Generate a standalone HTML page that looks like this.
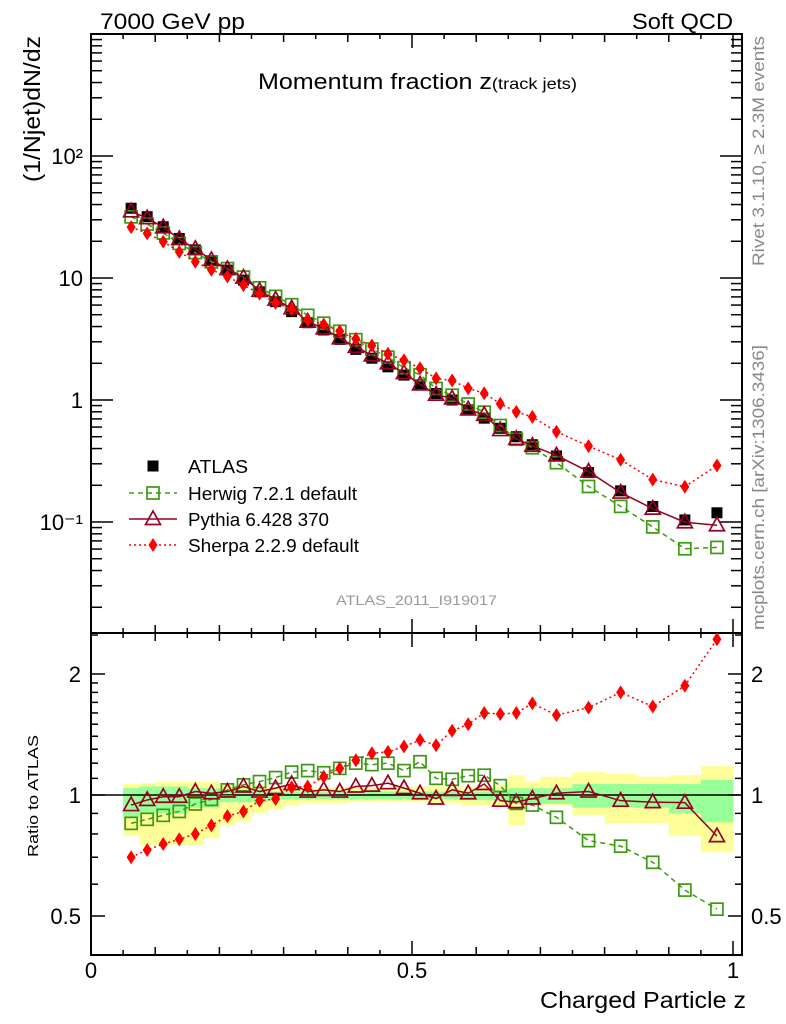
<!DOCTYPE html>
<html><head><meta charset="utf-8"><style>
html,body{margin:0;padding:0;background:#fff;}
svg{display:block;font-family:"Liberation Sans",sans-serif;}
</style></head><body>
<svg id="chart" width="786" height="1024" viewBox="0 0 786 1024" xmlns="http://www.w3.org/2000/svg">
<text x="100" y="29" font-size="22" textLength="145" lengthAdjust="spacingAndGlyphs">7000 GeV pp</text>
<text x="632" y="29" font-size="22" textLength="101" lengthAdjust="spacingAndGlyphs">Soft QCD</text>
<text x="258" y="89" font-size="22" textLength="319" lengthAdjust="spacingAndGlyphs">Momentum fraction z<tspan font-size="16">(track jets)</tspan></text>
<text transform="translate(40,182) rotate(-90)" font-size="23" textLength="146" lengthAdjust="spacingAndGlyphs">(1/Njet)dN/dz</text>
<text transform="translate(38,857) rotate(-90)" font-size="15" textLength="122" lengthAdjust="spacingAndGlyphs">Ratio to ATLAS</text>
<text transform="translate(764,266) rotate(-90)" font-size="17" fill="#888" textLength="230" lengthAdjust="spacingAndGlyphs">Rivet 3.1.10, ≥ 2.3M events</text>
<text transform="translate(764,630) rotate(-90)" font-size="17" fill="#888" textLength="285" lengthAdjust="spacingAndGlyphs">mcplots.cern.ch [arXiv:1306.3436]</text>
<text x="336" y="605" font-size="14" fill="#999" textLength="161" lengthAdjust="spacingAndGlyphs">ATLAS_2011_I919017</text>
<text x="540" y="1008" font-size="23" textLength="206" lengthAdjust="spacingAndGlyphs">Charged Particle z</text>
<g id="layer"></g>
</svg>
<script>
const xCenters=[0.0625,0.0875,0.1125,0.1375,0.1625,0.1875,0.2125,0.2375,0.2625,0.2875,0.3125,0.3375,0.3625,0.3875,0.4125,0.4375,0.4625,0.4875,0.5125,0.5375,0.5625,0.5875,0.6125,0.6375,0.6625,0.6875,0.725,0.775,0.825,0.875,0.925,0.975];
const xHalfWidths=[0.0125,0.0125,0.0125,0.0125,0.0125,0.0125,0.0125,0.0125,0.0125,0.0125,0.0125,0.0125,0.0125,0.0125,0.0125,0.0125,0.0125,0.0125,0.0125,0.0125,0.0125,0.0125,0.0125,0.0125,0.0125,0.0125,0.025,0.025,0.025,0.025,0.025,0.025];
const atlasValues=[37.3,31.8,26.3,21.1,17.0,13.9,11.6,9.6,7.7,6.4,5.3,4.3,3.75,3.14,2.6,2.2,1.87,1.6,1.33,1.13,1.0,0.83,0.71,0.586,0.50,0.43,0.348,0.254,0.18,0.134,0.104,0.119];
const herwigRatio=[0.85,0.87,0.89,0.91,0.95,0.975,1.03,1.06,1.08,1.105,1.14,1.15,1.136,1.165,1.2,1.19,1.2,1.15,1.21,1.10,1.094,1.117,1.12,1.055,0.953,0.944,0.88,0.77,0.746,0.68,0.58,0.52];
const pythiaRatio=[0.944,0.972,0.99,0.99,1.02,1.01,1.02,1.05,1.02,1.04,1.065,1.02,1.03,1.02,1.05,1.055,1.07,1.04,1.01,0.98,1.03,1.01,1.065,0.968,0.96,0.98,1.01,1.02,0.968,0.96,0.957,0.79];
const sherpaRatio=[0.70,0.73,0.755,0.776,0.80,0.84,0.886,0.91,0.968,0.977,1.045,1.05,1.11,1.165,1.22,1.27,1.28,1.32,1.37,1.33,1.445,1.5,1.6,1.59,1.6,1.69,1.58,1.65,1.8,1.66,1.87,2.44];
const bandYellowHi=[1.065,1.07,1.08,1.08,1.08,1.08,1.06,1.06,1.06,1.045,1.045,1.045,1.045,1.045,1.045,1.045,1.045,1.05,1.05,1.05,1.05,1.05,1.05,1.06,1.12,1.08,1.11,1.14,1.13,1.11,1.12,1.18];
const bandYellowLo=[0.79,0.75,0.75,0.75,0.75,0.78,0.84,0.86,0.9,0.92,0.94,0.95,0.95,0.95,0.96,0.96,0.96,0.96,0.96,0.95,0.95,0.94,0.94,0.94,0.84,0.955,0.94,0.89,0.85,0.85,0.79,0.72];
const bandGreenHi=[1.04,1.05,1.05,1.05,1.04,1.04,1.03,1.03,1.03,1.02,1.02,1.02,1.02,1.02,1.02,1.02,1.02,1.02,1.02,1.02,1.02,1.02,1.02,1.03,1.04,1.04,1.04,1.065,1.065,1.065,1.065,1.09];
const bandGreenLo=[0.88,0.9,0.9,0.9,0.93,0.93,0.96,0.96,0.96,0.975,0.975,0.975,0.975,0.975,0.975,0.975,0.975,0.975,0.975,0.975,0.975,0.97,0.97,0.97,0.95,0.95,0.95,0.93,0.93,0.93,0.9,0.855];
const mainTickLabels=["10⁻¹","1","10","10²"];
const mainTickValues=[0.1,1,10,100];
const ratioTickLabels=["0.5","1","2"];
const ratioTickValues=[0.5,1,2];
const xTickLabels=["0","0.5","1"];
const xTickValues=[0,0.5,1];

const NS="http://www.w3.org/2000/svg";
const L=document.getElementById('layer');
const X0=91,X1=742,M0=34,M1=633,R1=955;
const xs=v=>91+v*642;
const ym=v=>400-122*Math.log10(v);
const yr=v=>795-121*Math.log2(v);
function mk(tag,attrs,parent){const e=document.createElementNS(NS,tag);for(const k in attrs)e.setAttribute(k,attrs[k]);(parent||L).appendChild(e);return e;}

bandYellowHi.forEach((h,i)=>{
  const r=mk('rect',{x:xs(xCenters[i]-xHalfWidths[i]),width:xs(xCenters[i]+xHalfWidths[i])-xs(xCenters[i]-xHalfWidths[i])+0.5,y:yr(h),height:yr(bandYellowLo[i])-yr(h),fill:'#ffff99'});
  
  
});
bandGreenHi.forEach((h,i)=>{
  const r=mk('rect',{x:xs(xCenters[i]-xHalfWidths[i]),width:xs(xCenters[i]+xHalfWidths[i])-xs(xCenters[i]-xHalfWidths[i])+0.5,y:yr(h),height:yr(bandGreenLo[i])-yr(h),fill:'#99ff99'});
  
  
});
const ref=mk('line',{x1:X0,x2:X1,y1:yr(1),y2:yr(1),stroke:'#000','stroke-width':1.5});



function frame(y0,y1,name){
  const f=mk('rect',{x:X0,y:y0,width:X1-X0,height:y1-y0,fill:'none',stroke:'#000','stroke-width':2});
  
  
  for(let k=0;k<=20;k++){const v=k*0.05;const x=xs(v);const len=(k%10==0)?14:(k%2==0?8:5);
    mk('line',{x1:x,x2:x,y1:y1,y2:y1-len,stroke:'#000','stroke-width':1.5});
    mk('line',{x1:x,x2:x,y1:y0,y2:y0+len,stroke:'#000','stroke-width':1.5});}
}
frame(M0,M1,'main-plot-frame');
frame(M1,R1,'ratio-plot-frame');
for(let d=-2;d<=2;d++){for(let m=1;m<=9;m++){const v=m*Math.pow(10,d);const y=ym(v);if(y<M0||y>M1)continue;const len=m==1?22:11;
  mk('line',{x1:X0,x2:X0+len,y1:y,y2:y,stroke:'#000','stroke-width':1.5});
  mk('line',{x1:X1,x2:X1-len,y1:y,y2:y,stroke:'#000','stroke-width':1.5});}}
mainTickValues.forEach((v,i)=>{const t=mk('text',{x:X0-8,y:ym(v)+8,'font-size':22,'text-anchor':'end'});t.textContent=mainTickLabels[i];
  
  });
[0.4,0.5,0.6,0.7,0.8,0.9,1,1.1,1.2,1.3,1.4,1.5,1.6,1.7,1.8,1.9,2,2.5].forEach(v=>{const y=yr(v);if(y<M1||y>R1)return;const len=(v==0.5||v==1||v==2)?14:7;
  mk('line',{x1:X0,x2:X0+len,y1:y,y2:y,stroke:'#000','stroke-width':1.5});
  mk('line',{x1:X1,x2:X1-len,y1:y,y2:y,stroke:'#000','stroke-width':1.5});});
ratioTickValues.forEach((v,i)=>{
  const t=mk('text',{x:X0-10,y:yr(v)+8,'font-size':22,'text-anchor':'end'});t.textContent=ratioTickLabels[i];
  
  
  const t2=mk('text',{x:X1+9,y:yr(v)+8,'font-size':22});t2.textContent=ratioTickLabels[i];
  
  });
xTickValues.forEach((v,i)=>{const t=mk('text',{x:xs(v),y:978,'font-size':22,'text-anchor':'middle'});t.textContent=xTickLabels[i];
  
  });

const GREEN='#3a9a10',PY='#990022',SH='#ff0000';
function marker(type,x,y,name){let e;
  if(type=='sq')e=mk('rect',{x:x-5.5,y:y-5.5,width:11,height:11,fill:'#000'});
  else if(type=='osq')e=mk('rect',{x:x-6,y:y-6,width:12,height:12,fill:'none',stroke:GREEN,'stroke-width':1.7});
  else if(type=='tri')e=mk('path',{d:`M${x},${y-8}L${x+7.5},${y+5.5}L${x-7.5},${y+5.5}Z`,fill:'none',stroke:PY,'stroke-width':1.7});
  else e=mk('path',{d:`M${x},${y-7}L${x+4.5},${y}L${x},${y+7}L${x-4.5},${y}Z`,fill:SH});
  
  }
function series(vals,yf,color,dash,type,name){
  const pts=vals.map((v,i)=>xs(xCenters[i])+','+yf(v)).join(' ');
  const p=mk('polyline',{points:pts,fill:'none',stroke:color,'stroke-width':1.5,'stroke-dasharray':dash});
  
  
  vals.forEach((v,i)=>marker(type,xs(xCenters[i]),yf(v),name+'-point'));}
const herwigMain=herwigRatio.map((r,i)=>r*atlasValues[i]);
const pythiaMain=pythiaRatio.map((r,i)=>r*atlasValues[i]);
const sherpaMain=sherpaRatio.map((r,i)=>r*atlasValues[i]);
atlasValues.forEach((v,i)=>marker('sq',xs(xCenters[i]),ym(v),'atlas-point'));
series(herwigMain,ym,GREEN,'5,4','osq','herwig');
series(pythiaMain,ym,PY,'none','tri','pythia');
series(sherpaMain,ym,SH,'2,3','dia','sherpa');
series(herwigRatio,yr,GREEN,'5,4','osq','herwig-ratio');
series(pythiaRatio,yr,PY,'none','tri','pythia-ratio');
series(sherpaRatio,yr,SH,'2,3','dia','sherpa-ratio');

const leg=[['ATLAS','sq','#000','none',60],['Herwig 7.2.1 default','osq',GREEN,'5,4',169],['Pythia 6.428 370','tri',PY,'none',141],['Sherpa 2.2.9 default','dia',SH,'2,3',171]];
const legY=[466,493,519,545];
leg.forEach((l,i)=>{const y=legY[i];
  if(i>0){const ln=mk('line',{x1:129,x2:177,y1:y,y2:y,stroke:l[2],'stroke-width':1.5,'stroke-dasharray':l[3]});
    
    }
  marker(l[1],153,y,'legend-marker');
  const t=mk('text',{x:188,y:y+7,'font-size':18,textLength:l[4],lengthAdjust:'spacingAndGlyphs'});t.textContent=l[0];
  
  });
</script>
</body></html>
